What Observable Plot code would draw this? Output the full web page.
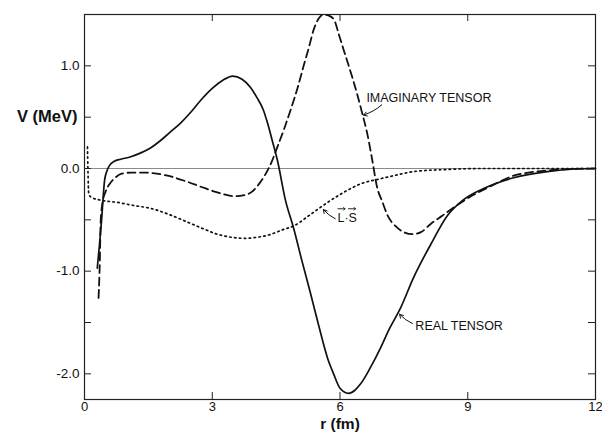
<!DOCTYPE html>
<html>
<head>
<meta charset="utf-8">
<script src="https://cdn.jsdelivr.net/npm/d3@7"></script>
<script src="https://cdn.jsdelivr.net/npm/@observablehq/plot@0.6"></script>
<style>
  html, body { margin: 0; padding: 0; background: #fff; }
  svg { display: block; }
</style>
</head>
<body>
<div id="chart"></div>
<script>
// Real tensor (solid): r (fm), V (MeV)
const realR = [0.30,0.35,0.40,0.47,0.53,0.59,0.70,0.85,1.05,1.31,1.55,1.78,2.00,2.25,2.50,2.72,3.00,3.25,3.48,3.70,3.90,4.05,4.20,4.30,4.41,4.53,4.72,4.91,5.10,5.31,5.50,5.71,5.85,6.00,6.20,6.35,6.48,6.70,6.95,7.15,7.42,7.73,8.13,8.52,8.88,9.40,10.08,10.87,11.50,12.00];
const realV = [-0.97,-0.75,-0.51,-0.12,-0.02,0.03,0.07,0.09,0.11,0.15,0.20,0.27,0.35,0.44,0.55,0.66,0.78,0.86,0.90,0.87,0.79,0.69,0.57,0.44,0.27,0.08,-0.31,-0.58,-0.89,-1.22,-1.53,-1.85,-2.00,-2.14,-2.19,-2.16,-2.10,-1.95,-1.75,-1.57,-1.36,-1.06,-0.74,-0.46,-0.31,-0.19,-0.09,-0.03,-0.005,0.00];

// Imaginary tensor (dashed)
const imagR = [0.33,0.36,0.38,0.42,0.50,0.59,0.72,0.87,1.10,1.41,1.70,1.95,2.35,2.75,3.10,3.52,3.75,3.92,4.10,4.23,4.40,4.53,4.70,4.84,5.00,5.14,5.27,5.38,5.50,5.61,5.73,5.86,5.97,6.09,6.25,6.40,6.52,6.64,6.75,6.87,7.00,7.12,7.30,7.50,7.70,7.90,8.13,8.40,8.67,9.00,9.50,10.08,10.60,11.20,12.00];
const imagV = [-1.26,-0.90,-0.51,-0.34,-0.22,-0.15,-0.09,-0.05,-0.04,-0.04,-0.05,-0.07,-0.12,-0.18,-0.23,-0.27,-0.26,-0.23,-0.15,-0.07,0.07,0.21,0.40,0.57,0.78,0.99,1.18,1.35,1.46,1.50,1.49,1.45,1.31,1.15,0.94,0.73,0.54,0.34,0.10,-0.18,-0.33,-0.46,-0.56,-0.62,-0.64,-0.62,-0.54,-0.46,-0.38,-0.29,-0.18,-0.07,-0.03,-0.01,0.00];

// L·S (dotted)
const lsR = [0.07,0.08,0.10,0.16,0.40,0.77,1.15,1.57,2.00,2.35,2.75,3.12,3.45,3.76,4.05,4.30,4.70,4.91,5.30,5.71,6.10,6.48,6.95,7.26,7.73,8.50,9.30,12.00];
const lsV = [0.21,0.00,-0.25,-0.28,-0.31,-0.33,-0.36,-0.39,-0.45,-0.51,-0.58,-0.64,-0.67,-0.68,-0.67,-0.65,-0.59,-0.56,-0.45,-0.33,-0.23,-0.15,-0.10,-0.07,-0.03,-0.01,0.00,0.00];

// Axis ticks
const xTickLabels = [0, 3, 6, 9, 12];
const xInnerTicks = [3, 6, 9];
const yTickLabels = [-2, -1, 0, 1];
const yInnerTicks = [-2, -1.5, -1, -0.5, 0, 0.5, 1];

// Annotations (data units)
const labels = [
  {text: "IMAGINARY TENSOR", r: 6.62, v: 0.69},
  {text: "REAL TENSOR", r: 7.77, v: -1.53},
  {text: "L\u00B7S", r: 5.94, v: -0.48}
];
const lsAnchor = [{r: 5.94, v: -0.48}];
const arrows = [
  {r1: 6.98, v1: 0.62, r2: 6.55, v2: 0.52},
  {r1: 7.70, v1: -1.51, r2: 7.40, v2: -1.42},
  {r1: 5.89, v1: -0.49, r2: 5.61, v2: -0.40}
];

const toRows = (R, V) => R.map((r, i) => ({r, v: V[i]}));
const real = toRows(realR, realV);
const imag = toRows(imagR, imagV);
const ls = toRows(lsR, lsV);

const W = 602, H = 439, mL = 84, mR = 7, mT = 14, mB = 40;
const pw = W - mL - mR, ph = H - mT - mB, tk = 7;

const chart = Plot.plot({
  width: W, height: H,
  marginLeft: mL, marginRight: mR, marginTop: mT, marginBottom: mB,
  style: {fontFamily: "'Liberation Sans', Arial, sans-serif", background: "#fff", color: "#111"},
  x: {domain: [0, 12]},
  y: {domain: [-2.25, 1.5]},
  marks: [
    Plot.ruleY([0], {stroke: "#8a8a8a", strokeWidth: 1}),
    Plot.frame({stroke: "#222", strokeWidth: 1.2}),
    Plot.axisX(xTickLabels, {tickSize: 0, tickPadding: 2, fontSize: 13, label: null, tickFormat: d => String(d)}),
    Plot.axisY(yTickLabels, {tickSize: 0, tickPadding: 5, fontSize: 13.5, letterSpacing: 0.8, label: null, tickFormat: d => d.toFixed(1)}),
    Plot.tickX(xInnerTicks, {x: d => d, insetTop: ph - tk, stroke: "#222"}),
    Plot.tickX(xInnerTicks, {x: d => d, insetBottom: ph - tk, stroke: "#222"}),
    Plot.tickY(yInnerTicks, {y: d => d, insetRight: pw - tk, stroke: "#222"}),
    Plot.tickY(yInnerTicks, {y: d => d, insetLeft: pw - tk, stroke: "#222"}),
    Plot.line(ls, {x: "r", y: "v", curve: "monotone-x", stroke: "#111", strokeWidth: 1.7, strokeDasharray: "1.5,3.4"}),
    Plot.line(imag, {x: "r", y: "v", curve: "monotone-x", stroke: "#111", strokeWidth: 1.8, strokeDasharray: "8,4.5"}),
    Plot.line(real, {x: "r", y: "v", curve: "monotone-x", stroke: "#111", strokeWidth: 1.7}),
    Plot.arrow(arrows, {x1: "r1", y1: "v1", x2: "r2", y2: "v2", stroke: "#111", strokeWidth: 1, headLength: 6, bend: 12}),
    Plot.text(labels, {x: "r", y: "v", text: "text", textAnchor: "start", fontSize: 12.5, fill: "#111", fontWeight: 500}),
    Plot.vector(lsAnchor, {x: "r", y: "v", length: 7, rotate: 90, anchor: "start", dx: 0.5, dy: -9, stroke: "#111", strokeWidth: 0.9}),
    Plot.vector(lsAnchor, {x: "r", y: "v", length: 7, rotate: 90, anchor: "start", dx: 11, dy: -9, stroke: "#111", strokeWidth: 0.9}),
    Plot.text(["V (MeV)"], {y: 0.5, frameAnchor: "left", textAnchor: "end", dx: -7, fontSize: 16.5, fontWeight: "bold", fill: "#111"}),
    Plot.text(["r (fm)"], {x: 6, frameAnchor: "bottom", dy: 29, fontSize: 15.5, fontWeight: "bold", fill: "#111"})
  ]
});
document.getElementById("chart").appendChild(chart);
</script>
</body>
</html>
